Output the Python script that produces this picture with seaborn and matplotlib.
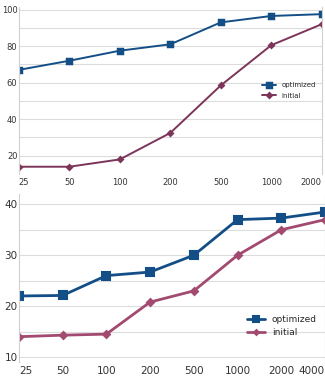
import matplotlib
matplotlib.use("Agg")
import matplotlib.pyplot as plt
import seaborn as sns
import pandas as pd

# top chart
sizes_top = ["25", "50", "100", "200", "500", "1000", "2000"]
optimized_top = [67, 72, 77.5, 81, 93, 96.5, 97.5]
initial_top = [14, 14, 18, 32.5, 58.5, 80.5, 92]

# bottom chart
sizes_bot = ["25", "50", "100", "200", "500", "1000", "2000", "4000"]
optimized_bot = [22, 22.1, 26, 26.7, 30, 37, 37.3, 38.5]
initial_bot = [14, 14.3, 14.5, 20.8, 23, 30, 35, 37]

blue = "#134f86"
red_top = "#7d3459"
red_bot = "#a24a70"

sns.set_style("whitegrid", {"grid.color": "#dcdcdc", "axes.edgecolor": "#d0d0d0"})
plt.rcParams["font.family"] = ["DejaVu Sans"]

fig = plt.figure(figsize=(3.25, 3.8), dpi=100)
ax1 = fig.add_axes([0.058, 0.542, 0.932, 0.44])
ax2 = fig.add_axes([0.058, 0.047, 0.942, 0.442])


def long_df(sizes, opt, ini):
    return pd.DataFrame({
        "size": sizes * 2,
        "value": opt + ini,
        "series": ["optimized"] * len(sizes) + ["initial"] * len(sizes),
    })


def edge_labels(ax):
    labels = ax.get_xticklabels()
    labels[0].set_horizontalalignment("left")
    labels[-1].set_horizontalalignment("right")


df_top = long_df(sizes_top, optimized_top, initial_top)
sns.pointplot(data=df_top, x="size", y="value", hue="series", order=sizes_top,
              hue_order=["optimized", "initial"], palette=[blue, red_top],
              markers=["s", "D"], linestyles=["-", "-"], ax=ax1,
              markersize=5, linewidth=1.4)
for line in ax1.lines:
    if line.get_color() == red_top:
        line.set_markersize(3)
ax1.set_xlim(0, len(sizes_top) - 1)
ax1.set_ylim(10, 101.5)
ax1.set_yticks(range(10, 101, 10))
ax1.set_yticklabels(["" if v % 20 else str(v) for v in range(10, 101, 10)])
ax1.set_xlabel("")
ax1.set_ylabel("")
ax1.tick_params(axis="both", labelsize=6, colors="#333333", pad=1, length=0)
ax1.tick_params(axis="x", pad=3)
edge_labels(ax1)
ax1.legend(loc="center right", bbox_to_anchor=(1.0, 0.5), fontsize=5, frameon=False,
           handlelength=2, labelspacing=0.6)

df_bot = long_df(sizes_bot, optimized_bot, initial_bot)
sns.pointplot(data=df_bot, x="size", y="value", hue="series", order=sizes_bot,
              hue_order=["optimized", "initial"], palette=[blue, red_bot],
              markers=["s", "D"], linestyles=["-", "-"], ax=ax2,
              markersize=6, linewidth=2)
for line in ax2.lines:
    if line.get_color() == red_bot:
        line.set_markersize(3.5)
ax2.set_xlim(0, len(sizes_bot) - 1)
ax2.set_ylim(9, 42)
ax2.set_yticks(range(10, 41, 5))
ax2.set_yticklabels(["" if v % 10 else str(v) for v in range(10, 41, 5)])
ax2.set_xlabel("")
ax2.set_ylabel("")
ax2.tick_params(axis="both", labelsize=7.5, colors="#333333", pad=1, length=0)
ax2.tick_params(axis="x", pad=3)
edge_labels(ax2)
leg = ax2.legend(loc="lower right", bbox_to_anchor=(1.0, 0.1), fontsize=6.5, frameon=False,
                 handlelength=2, labelspacing=0.5, markerscale=0.7)

for ax in (ax1, ax2):
    ax.grid(axis="x", visible=False)
    ax.spines["top"].set_visible(False)
    ax.spines["bottom"].set_visible(False)

fig.savefig("out.png", dpi=100)
